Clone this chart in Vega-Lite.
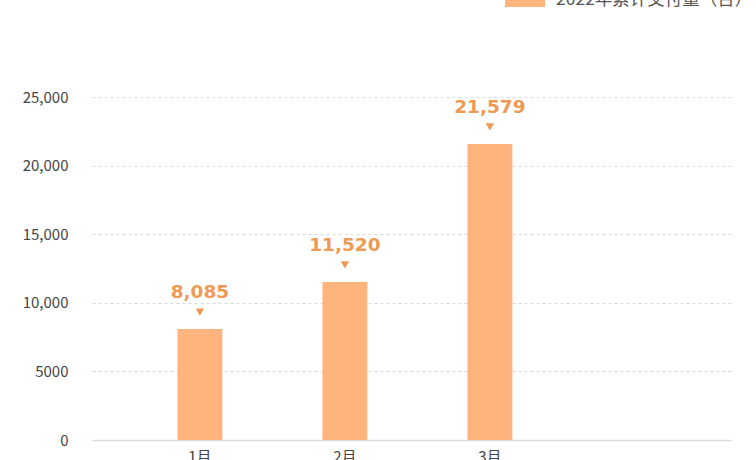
{
  "$schema": "https://vega.github.io/schema/vega-lite/v6.json",
  "autosize": {"type": "none"},
  "width": 640,
  "height": 343,
  "padding": {"left": 92, "top": 97, "right": 24, "bottom": 20},
  "background": "white",
  "config": {
    "view": {"stroke": null},
    "font": "Noto Sans CJK SC"
  },
  "data": {
    "values": [
      {"month": "1月", "value": 8085, "series": "2022年累计交付量（台）"},
      {"month": "2月", "value": 11520, "series": "2022年累计交付量（台）"},
      {"month": "3月", "value": 21579, "series": "2022年累计交付量（台）"}
    ]
  },
  "encoding": {
    "x": {
      "field": "month",
      "type": "ordinal",
      "sort": null,
      "scale": {"domain": ["1月", "2月", "3月", "4月"], "paddingInner": 0, "paddingOuter": 0.207, "align": 0.59},
      "axis": {
        "title": null,
        "labelAngle": 0,
        "labelFontSize": 15,
        "labelColor": "#444",
        "labelPadding": 9,
        "labelExpr": "datum.label == '4月' ? '' : datum.label",
        "domainColor": "#dddddd",
        "domainWidth": 1.5,
        "ticks": false,
        "grid": false
      }
    },
    "y": {
      "field": "value",
      "type": "quantitative",
      "scale": {"domain": [0, 25000], "nice": false},
      "axis": {
        "title": null,
        "values": [0, 5000, 10000, 15000, 20000, 25000],
        "labelExpr": "datum.value >= 10000 ? format(datum.value, ',') : '' + datum.value",
        "labelFontSize": 15,
        "labelColor": "#444",
        "labelPadding": 24,
        "domain": false,
        "ticks": false,
        "gridColor": "#d8d8d8",
        "gridDash": [3, 3],
        "gridWidth": 1
      }
    }
  },
  "layer": [
    {
      "mark": {"type": "bar", "width": 45, "color": "#FFB47E"},
      "encoding": {
        "fill": {
          "field": "series",
          "type": "nominal",
          "scale": {"range": ["#FFB47E"]},
          "legend": {
            "title": null,
            "orient": "none",
            "legendX": 413,
            "legendY": -117,
            "symbolType": "M-1,-0.35H1V0.35H-1Z",
            "symbolSize": 1600,
            "symbolStrokeWidth": 0,
            "labelFontSize": 17.5,
            "labelColor": "#555",
            "labelOffset": 11,
            "labelLimit": 400
          }
        }
      }
    },
    {
      "mark": {"type": "point", "shape": "triangle-down", "filled": true, "size": 70, "color": "#EE9A55", "opacity": 1, "yOffset": -17}
    },
    {
      "mark": {"type": "text", "dy": -37, "fontSize": 18.5, "fontWeight": "bold", "font": "DejaVu Sans", "color": "#EE9A55"},
      "encoding": {
        "text": {"field": "value", "type": "quantitative", "format": ","}
      }
    }
  ]
}
